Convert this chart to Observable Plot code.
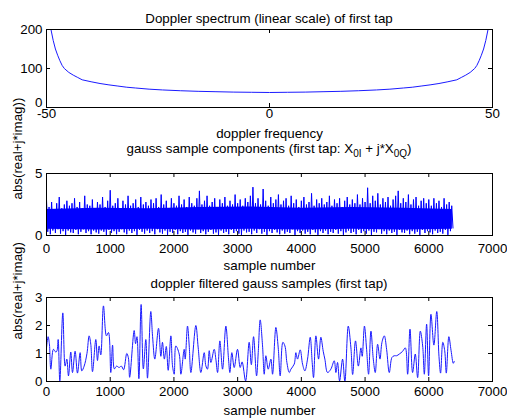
<!DOCTYPE html>
<html>
<head>
<meta charset="utf-8">
<script src="https://cdn.jsdelivr.net/npm/d3@7"></script>
<script src="https://cdn.jsdelivr.net/npm/@observablehq/plot@0.6"></script>
<style>
  html, body { margin: 0; padding: 0; background: #fff; }
  #chart { position: relative; width: 507px; height: 420px; background: #fff; font-family: "Liberation Sans", Arial, sans-serif; color: #000; overflow: hidden; }
  #chart svg { position: absolute; left: 0; }
  .ttl { position: absolute; left: 46px; width: 446px; text-align: center; font-size: 13.33px; line-height: 13px; white-space: nowrap; }
  .sb { position: relative; top: 4px; font-size: 10px; line-height: 0; }
</style>
</head>
<body>
<div id="chart">
  <div class="ttl" style="top:11.5px">Doppler spectrum (linear scale) of first tap</div>
  <div class="ttl" style="top:142px">gauss sample components (first tap: X<span class="sb">0I</span> + j*X<span class="sb">0Q</span>)</div>
  <div class="ttl" style="top:276.5px">doppler filtered gauss samples (first tap)</div>
</div>
<script>
// ---- Panel 1: Doppler spectrum ----
const dopplerFreq = [-49, -48.5, -48, -47.5, -47, -46.5, -46, -45, -44, -43, -42, -40, -38, -36, -34, -32, -30, -27, -24, -20, -16, -12, -8, -4, 0, 4, 8, 12, 16, 20, 24, 27, 30, 32, 34, 36, 38, 40, 42, 43, 44, 45, 46, 46.5, 47, 47.5, 48, 48.5, 49];
const dopplerPower = [200, 172, 150, 134, 120, 108, 100, 90, 83, 77, 71, 66, 61.5, 58, 55, 52, 50, 47, 45, 43, 41.5, 40.5, 39.5, 39, 38.5, 39, 39.5, 40.5, 41.5, 43, 45, 47, 50, 52, 55, 58, 61.5, 66, 71, 77, 83, 90, 100, 108, 120, 134, 150, 172, 200];
const freqTicks = [-50, 0, 50];
const powerTicks = [0, 100, 200];

// ---- Panel 2: gauss sample magnitudes (upper / lower excursions, read per ~40 samples) ----
const gaussHigh = [
  2.9, 2.3, 2.7, 2.1, 2.6, 3.1, 2.2, 2.5, 2.8, 2.4,
  2.6, 3.0, 2.3, 2.7, 2.2, 3.2, 2.5, 2.4, 2.9, 2.1,
  2.7, 2.5, 3.1, 2.3, 2.8, 3.65, 2.4, 2.6, 3.0, 2.2,
  2.8, 2.5, 3.2, 2.4, 2.6, 2.9, 2.3, 3.1, 2.5, 2.7,
  2.4, 2.9, 2.6, 3.0, 2.3, 3.3, 2.5, 2.8, 2.2, 3.0,
  2.6, 2.4, 3.2, 2.5, 2.9, 2.3, 3.1, 2.6, 2.4, 3.0,
  3.6, 2.5, 2.8, 3.2, 2.4, 2.7, 3.0, 2.3, 2.9, 2.6,
  3.1, 2.4, 2.8, 2.5, 3.3, 2.6, 2.9, 2.4, 3.0, 2.7,
  3.2, 3.9, 2.6, 3.0, 2.5, 3.75, 2.8, 2.4, 3.1, 2.6,
  2.9, 3.3, 2.5, 2.8, 3.0, 2.4, 3.2, 2.6, 2.9, 2.3,
  2.8, 3.1, 2.5, 2.7, 3.4, 2.4, 2.9, 2.6, 3.0, 2.5,
  2.7, 3.2, 2.4, 2.9, 2.6, 3.0, 2.3, 2.8, 3.1, 2.5,
  2.9, 2.6, 3.3, 2.5, 3.0, 2.7, 3.85, 2.6, 3.2, 2.8,
  3.4, 2.5, 3.0, 2.7, 3.1, 2.4, 2.9, 3.2, 3.6, 2.6,
  3.0, 2.7, 3.3, 2.5, 2.9, 3.1, 2.4, 2.8, 3.0, 2.6,
  2.9, 2.4, 3.0, 2.6, 2.8, 2.3, 3.0, 2.5, 2.7, 2.4
];
const gaussLow = [
  0.3, 0.1, 0.4, 0.2, 0.5, 0.15, 0.35, 0.05, 0.4, 0.25,
  0.2, 0.45, 0.1, 0.3, 0.5, 0.2, 0.35, 0.1, 0.4, 0.25,
  0.15, 0.4, 0.3, 0.05, 0.45, 0.2, 0.35, 0.1, 0.3, 0.5,
  0.25, 0.1, 0.4, 0.2, 0.35, 0.05, 0.45, 0.3, 0.15, 0.4,
  0.2, 0.35, 0.1, 0.5, 0.25, 0.15, 0.4, 0.05, 0.3, 0.2,
  0.45, 0.1, 0.35, 0.2, 0.3, 0.05, 0.4, 0.25, 0.15, 0.5,
  0.2, 0.35, 0.1, 0.3, 0.45, 0.15, 0.25, 0.05, 0.4, 0.2,
  0.3, 0.1, 0.45, 0.2, 0.35, 0.15, 0.05, 0.4, 0.25, 0.3,
  0.1, 0.4, 0.2, 0.5, 0.15, 0.3, 0.05, 0.35, 0.2, 0.45,
  0.25, 0.1, 0.4, 0.15, 0.3, 0.2, 0.5, 0.05, 0.35, 0.2,
  0.4, 0.15, 0.3, 0.1, 0.45, 0.25, 0.05, 0.35, 0.2, 0.4,
  0.1, 0.3, 0.2, 0.45, 0.15, 0.35, 0.05, 0.25, 0.4, 0.2,
  0.3, 0.1, 0.45, 0.2, 0.35, 0.15, 0.4, 0.05, 0.3, 0.25,
  0.5, 0.15, 0.35, 0.1, 0.4, 0.2, 0.3, 0.05, 0.45, 0.25,
  0.2, 0.4, 0.1, 0.35, 0.15, 0.3, 0.05, 0.45, 0.2, 0.35,
  0.25, 0.1, 0.4, 0.2, 0.3, 0.15, 0.45, 0.05, 0.35, 0.6
];
const gaussSampleSpacing = 20;
// solid core of the dense trace
const coreSample = [0, 800, 1600, 2400, 3200, 4000, 4800, 5600, 6370];
const coreLow = [0.5, 0.45, 0.5, 0.45, 0.5, 0.45, 0.5, 0.45, 0.5];
const coreHigh = [2.1, 2.2, 2.15, 2.25, 2.3, 2.2, 2.25, 2.2, 2.1];
const sampleTicks = [0, 1000, 2000, 3000, 4000, 5000, 6000, 7000];
const gaussTicks = [0, 5];

// ---- Panel 3: doppler filtered gauss samples ----
const filteredSample = [
  0, 25, 45, 68, 109, 146, 165, 183, 209, 256,
  292, 319, 345, 381, 408, 449, 486, 528, 554, 591,
  635, 669, 695, 722, 774, 800, 826, 852, 894, 941,
  973, 1009, 1037, 1065, 1100, 1140, 1175, 1210, 1260, 1285,
  1305, 1376, 1398, 1420, 1450, 1485, 1520, 1559, 1585, 1637,
  1665, 1700, 1758, 1795, 1820, 1850, 1880, 1910, 1952, 1978,
  2004, 2030, 2083, 2109, 2161, 2177, 2213, 2240, 2266, 2344,
  2381, 2423, 2475, 2501, 2527, 2554, 2580, 2632, 2658, 2685,
  2721, 2763, 2815, 2857, 2878, 2909, 2946, 2998, 3040, 3070,
  3125, 3181, 3215, 3250, 3297, 3323, 3354, 3391, 3417, 3443,
  3480, 3522, 3548, 3600, 3637, 3668, 3710, 3742, 3773, 3810,
  3836, 3888, 3914, 3940, 3982, 4019, 4055, 4097, 4139, 4170,
  4191, 4228, 4270, 4306, 4343, 4369, 4411, 4463, 4516, 4542,
  4568, 4600, 4647, 4683, 4736, 4778, 4805, 4850, 4895, 4935,
  4955, 4990, 5024, 5055, 5092, 5129, 5160, 5197, 5234, 5265,
  5302, 5338, 5380, 5422, 5458, 5495, 5537, 5590, 5632, 5668,
  5705, 5746, 5788, 5825, 5867, 5904, 5930, 5966, 5997, 6034,
  6080, 6125, 6160, 6185, 6220, 6250, 6275, 6315, 6350, 6385,
  6400
];
const filteredAbs = [
  1.2, 1.6, 1.35, 0.44, 1.15, 1.05, 1.1, 1.5, 0.02, 2.45,
  0.55, 0.8, 0.2, 1.05, 0.32, 1.08, 0.3, 1.03, 0.38, 0.55,
  1.0, 1.63, 1.33, 0.35, 1.5, 0.75, 1.27, 0.95, 2.7, 1.63,
  1.75, 0.32, 1.3, 0.45, 0.55, 0.5, 0.55, 0.42, 1.0, 0.85,
  0.15, 1.82, 1.35, 1.6, 0.1, 2.75, 0.45, 1.5, 0.12, 2.5,
  1.6, 0.8, 1.9, 0.9, 1.4, 0.8, 1.25, 0.4, 1.63, 0.56,
  0.26, 1.27, 0.98, 0.26, 1.15, 0.8, 1.98, 1.27, 0.32, 2.0,
  1.2, 0.32, 1.03, 0.56, 0.44, 1.1, 0.68, 1.15, 0.8, 0.32,
  1.45, 0.44, 1.98, 0.8, 0.32, 1.03, 0.5, 1.15, 0.5, 0.7,
  0.02, 1.4, 0.6, 1.6, 0.2, 1.03, 2.2, 1.27, 0.26, 0.92,
  0.44, 0.8, 0.26, 1.93, 1.2, 0.2, 1.4, 1.27, 0.68, 0.32,
  0.44, 0.62, 1.03, 0.8, 1.13, 0.62, 0.38, 0.8, 1.58, 0.68,
  0.14, 1.63, 0.8, 1.58, 1.08, 0.8, 0.32, 0.44, 0.74, 0.32,
  0.68, 0.02, 0.8, 0.0, 1.98, 1.2, 0.25, 1.45, 0.55, 1.2,
  0.9, 1.98, 1.15, 0.26, 1.8, 0.8, 0.32, 1.33, 0.8, 1.4,
  1.63, 1.15, 0.32, 0.86, 0.92, 0.92, 0.98, 1.08, 1.2, 0.26,
  1.87, 0.32, 0.98, 0.14, 1.8, 1.27, 0.26, 2.05, 0.2, 2.4,
  1.3, 2.5, 0.9, 0.3, 1.4, 1.1, 0.3, 1.6, 1.1, 0.65,
  0.72
];
const filteredTicks = [0, 1, 2, 3];

// ---- build tables ----
const spectrum = dopplerFreq.map((f, i) => ({f, p: dopplerPower[i]}));
const gauss = [];
gaussHigh.forEach((h, i) => {
  gauss.push({n: (2 * i) * gaussSampleSpacing, v: h});
  gauss.push({n: (2 * i + 1) * gaussSampleSpacing, v: gaussLow[i]});
});
const core = coreSample.map((n, i) => ({n, lo: coreLow[i], hi: coreHigh[i]}));
const filtered = filteredSample.map((n, i) => ({n, v: filteredAbs[i]}));

const W = 507, ML = 46, MR = 15, TICK = 4;
const FONT = 13.33;
const chart = document.getElementById("chart");

function panel({top, height, mt, mb, xDomain, yDomain, xTicks, yTicks, yLowDy = 0, xPad, dataMarks, xLabel, xLabelDy, yLabel, yLabelDy}) {
  const fh = height - mt - mb;
  const fw = W - ML - MR;
  const marks = [
    ...dataMarks,
    Plot.frame({stroke: "#000", strokeWidth: 1}),
    Plot.tickX(xTicks, {x: d => d, insetTop: fh - TICK, stroke: "#000"}),
    Plot.tickX(xTicks, {x: d => d, insetBottom: fh - TICK, stroke: "#000"}),
    Plot.tickY(yTicks, {y: d => d, insetRight: fw - TICK, stroke: "#000"}),
    Plot.tickY(yTicks, {y: d => d, insetLeft: fw - TICK, stroke: "#000"}),
    Plot.axisX({ticks: xTicks, tickSize: 0, tickPadding: xPad, label: null, tickFormat: d => String(d), fontSize: FONT}),
    Plot.axisY({ticks: yTicks.filter(d => d !== yDomain[0]), tickSize: 0, tickPadding: 4, label: null, tickFormat: d => String(d), fontSize: FONT}),
    Plot.axisY({ticks: [yDomain[0]], tickSize: 0, tickPadding: 4, label: null, tickFormat: d => String(d), fontSize: FONT, dy: yLowDy}),
    Plot.text([xLabel], {frameAnchor: "bottom", dy: xLabelDy, text: d => d, fontSize: FONT, lineAnchor: "middle", fill: "#000"})
  ];
  if (yLabel) marks.push(Plot.text([yLabel], {frameAnchor: "left", rotate: -90, dx: -29, dy: yLabelDy, text: d => d, fontSize: FONT, lineAnchor: "middle", fill: "#000"}));
  const svg = Plot.plot({
    width: W, height,
    marginTop: mt, marginBottom: mb, marginLeft: ML, marginRight: MR,
    x: {domain: xDomain},
    y: {domain: yDomain},
    style: {fontFamily: '"Liberation Sans", Arial, sans-serif', fontSize: FONT + "px", color: "#000", background: "transparent", overflow: "visible"},
    marks
  });
  svg.style.position = "absolute";
  svg.style.top = top + "px";
  chart.appendChild(svg);
}

panel({
  top: 0, height: 142, mt: 29, mb: 35,
  xDomain: [-50, 50], yDomain: [0, 200],
  xTicks: freqTicks, yTicks: powerTicks, yLowDy: -5, xPad: 1,
  dataMarks: [Plot.line(spectrum, {x: "f", y: "p", stroke: "#1a1aff", strokeWidth: 1, clip: true})],
  xLabel: "doppler frequency", xLabelDy: 26.5,
  yLabel: null
});

panel({
  top: 142, height: 130, mt: 31, mb: 37,
  xDomain: [0, 7000], yDomain: [0, 5],
  xTicks: sampleTicks, yTicks: gaussTicks, xPad: 8,
  dataMarks: [
    Plot.areaY(core, {x: "n", y1: "lo", y2: "hi", fill: "#0000ff", curve: "linear", clip: true}),
    Plot.line(gauss, {x: "n", y: "v", stroke: "#0000ff", strokeWidth: 1, clip: true})
  ],
  xLabel: "sample number", xLabelDy: 30,
  yLabel: "abs(real+j*imag))", yLabelDy: -5
});

panel({
  top: 272, height: 148, mt: 25, mb: 39,
  xDomain: [0, 7000], yDomain: [0, 3],
  xTicks: sampleTicks, yTicks: filteredTicks, xPad: 5,
  dataMarks: [Plot.line(filtered, {x: "n", y: "v", stroke: "#1a1aff", strokeWidth: 1, curve: "catmull-rom", clip: true})],
  xLabel: "sample number", xLabelDy: 29,
  yLabel: "abs(real+j*imag)", yLabelDy: 0
});
</script>
</body>
</html>
